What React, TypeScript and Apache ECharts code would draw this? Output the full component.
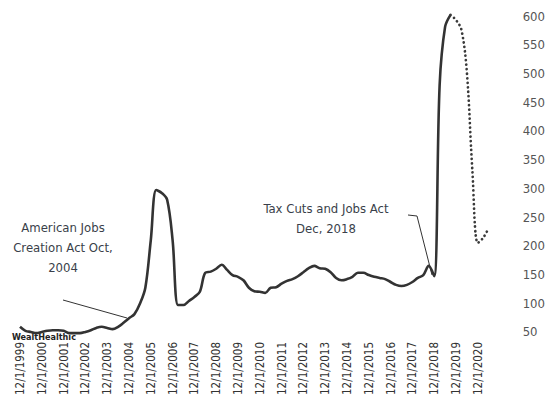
import React, { useEffect, useRef } from "react";
import * as echarts from "echarts";

// Quarterly observations starting 12/1/1999
const startYear = 1999;
const quarterCount = 87;
const monthsOfQuarter = [12, 3, 6, 9];

const solidValues = [
  59, 52, 50, 48, 50, 52, 53, 53, 52, 48,
  48, 48, 50, 53, 57, 59, 57, 55, 59, 66,
  74, 81, 99, 127, 210, 297, 292, 280, 210, 97,
  97, 104, 111, 120, 153, 155, 160, 167, 158, 149,
  146, 140, 127, 121, 120, 118, 127, 128, 134, 139,
  142, 147, 154, 161, 165, 161, 160, 154, 144, 140,
  142, 146, 153, 153, 149, 146, 144, 142, 137, 132,
  130, 132, 137, 144, 149, 165, 147, 480, 581, 602,
];
const projectedStart = 79;
const projectedValues = [602, 593, 576, 502, 332, 205, 214, 231];

const yTicks = { min: 50, max: 600, interval: 50 };

const annotation1 = ["American Jobs", "Creation Act Oct,", "2004"];
const annotation2 = ["Tax Cuts and Jobs Act", "Dec, 2018"];
const watermark = "WealtHealthic";

function buildCategories(): string[] {
  const out: string[] = [];
  for (let i = 0; i < quarterCount; i++) {
    const m = monthsOfQuarter[i % 4];
    const y = startYear + Math.floor((i + 3) / 4);
    out.push(`${m}/1/${y}`);
  }
  return out;
}

const FONT = "'DejaVu Sans Condensed', 'Liberation Sans Narrow', 'Roboto', sans-serif";

export default function App() {
  const ref = useRef<HTMLDivElement>(null);
  useEffect(() => {
    if (!ref.current) return;
    const chart = echarts.init(ref.current, undefined, { renderer: "svg" });
    const categories = buildCategories();
    const solid = categories.map((_, i) => (i < solidValues.length ? solidValues[i] : null));
    const projected = categories.map((_, i) => {
      const k = i - projectedStart;
      return k >= 0 && k < projectedValues.length ? projectedValues[k] : null;
    });
    chart.setOption({
      animation: false,
      backgroundColor: "#ffffff",
      grid: { left: 20, right: 59.3, top: 16, bottom: 66, containLabel: false },
      xAxis: {
        type: "category",
        data: categories,
        boundaryGap: false,
        axisLine: { show: false },
        axisTick: { show: false },
        splitLine: { show: false },
        axisLabel: {
          interval: 3,
          rotate: 90,
          margin: 10,
          color: "#333",
          fontSize: 11.5,
          fontFamily: FONT,
        },
      },
      yAxis: {
        type: "value",
        position: "right",
        min: yTicks.min,
        max: yTicks.max,
        interval: yTicks.interval,
        axisLine: { show: false },
        axisTick: { show: false },
        splitLine: { show: false },
        axisLabel: {
          margin: 34,
          color: "#555",
          fontSize: 13,
          fontFamily: FONT,
        },
      },
      series: [
        {
          type: "line",
          data: solid,
          smooth: 0.35,
          showSymbol: false,
          clip: false,
          lineStyle: { color: "#333", width: 2.6 },
        },
        {
          type: "line",
          data: projected,
          smooth: 0.35,
          showSymbol: false,
          clip: false,
          lineStyle: { color: "#3a3a3a", width: 2.7, type: [0.1, 4.4], cap: "round" },
        },
      ],
      graphic: [
        {
          type: "text",
          x: 63,
          y: 217,
          style: {
            text: annotation1.join("\n"),
            align: "center",
            verticalAlign: "top",
            lineHeight: 20,
            fill: "#3a3f4a",
            font: `13px ${FONT}`,
          },
        },
        {
          type: "line",
          shape: { x1: 63, y1: 300, x2: 127, y2: 318 },
          style: { stroke: "#333", lineWidth: 1 },
        },
        {
          type: "text",
          x: 326,
          y: 198,
          style: {
            text: annotation2.join("\n"),
            align: "center",
            verticalAlign: "top",
            lineHeight: 20,
            fill: "#3a3f4a",
            font: `13px ${FONT}`,
          },
        },
        {
          type: "polyline",
          shape: { points: [[408, 215], [417, 216], [432, 275]] },
          style: { stroke: "#333", lineWidth: 1, fill: null },
        },
        {
          type: "text",
          x: 12,
          y: 332,
          style: {
            text: watermark,
            fill: "#222",
            font: `bold 9px ${FONT}`,
          },
        },
      ],
    });
    return () => chart.dispose();
  }, []);
  return (
    <div
      ref={ref}
      style={{ position: "fixed", left: 0, top: 0, width: 548, height: 398, background: "#fff" }}
    />
  );
}
